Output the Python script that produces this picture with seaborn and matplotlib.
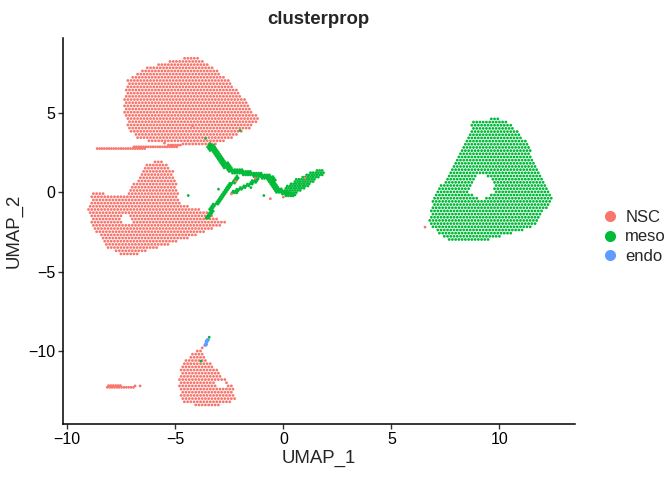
import numpy as np
import pandas as pd
import matplotlib
matplotlib.use("Agg")
import matplotlib.pyplot as plt
from matplotlib.path import Path
import seaborn as sns

# outlines of the cell clouds (UMAP coordinates)
nsc_top = [(-4.63, 8.46), (-3.85, 8.46), (-3.53, 8.14), (-2.6, 7.2),
           (-1.87, 6.01), (-1.08, 4.56), (-1.6, 4.0), (-2.6, 3.3),
           (-3.39, 2.85), (-5.0, 3.1), (-6.77, 3.30), (-7.19, 4.12),
           (-7.42, 5.31), (-7.24, 7.08), (-6.6, 7.7), (-5.8, 8.1)]
nsc_left = [(-9.09, -1.0), (-8.81, -0.04), (-7.24, -0.17), (-6.31, 1.85),
            (-5.71, 2.04), (-5.11, 1.41), (-4.9, 0.3), (-4.78, -0.67),
            (-3.6, -1.2), (-2.61, -1.94), (-3.72, -2.57), (-5.71, -3.46),
            (-7.24, -4.08), (-8.16, -3.46), (-8.81, -2.19)]
nsc_bottom = [(-3.72, -9.75), (-4.18, -10.13), (-4.64, -10.70), (-4.88, -12.02),
              (-4.64, -13.28), (-3.39, -13.60), (-2.14, -13.10), (-2.33, -12.28),
              (-3.07, -11.20), (-3.72, -10.26)]
meso_right = [(9.89, 4.74), (8.78, 4.43), (7.86, 1.59), (6.93, -0.30),
              (6.70, -1.94), (7.72, -3.17), (9.11, -3.17), (11.56, -2.16),
              (12.44, -0.48), (11.88, 1.22), (11.28, 3.11), (10.50, 4.37)]
meso_tip = [(0.0, 0.3), (0.4, -0.3), (1.0, 0.25), (1.9, 1.2), (1.85, 1.55),
            (1.2, 1.25), (0.5, 0.75)]

# sparse patches inside the clouds
holes = [
    [(8.6, 0.0), (9.1, -0.5), (9.8, 0.1), (9.6, 1.0), (9.0, 1.1)],
    [(-3.1, -11.8), (-2.7, -11.9), (-2.7, -12.4), (-3.1, -12.3)],
    [(-7.5, -1.4), (-7.1, -1.3), (-7.0, -1.9), (-7.4, -2.0)],
]

# thin strands: centre line and half width
nsc_strands = [
    ([(-8.6, 2.72), (-6.5, 2.82), (-4.8, 2.95)], 0.07),
    ([(-8.1, -12.25), (-7.0, -12.3)], 0.1),
]
meso_strands = [
    ([(-3.4, 2.95), (-2.47, 1.40), (-0.62, 0.96), (-0.29, 0.15),
      (0.31, -0.17)], 0.16),
    ([(-2.14, 0.96), (-3.25, -0.93), (-3.53, -1.63)], 0.1),
    ([(-2.33, -0.04), (-1.22, 0.78)], 0.1),
]
endo_strand = ([(-3.62, -9.65), (-3.5, -9.3)], 0.05)

# single cells
nsc_extra_x = [6.56, -2.2, -1.3, 0.0, -0.6, 1.0, -2.4, -6.86, -6.63, -4.2, -5.5]
nsc_extra_y = [-2.19, 0.7, 0.9, -0.3, -0.4, 0.9, -0.1, -12.2, -12.2, 4.2, 3.1]
meso_extra_x = [-3.43, -3.81, -3.6, -4.4, -2.0, -3.0, -1.5, -0.9]
meso_extra_y = [-9.13, -10.64, 3.4, -0.2, 3.9, 0.2, 0.3, -0.2]

labels = ["NSC", "meso", "endo"]
colors = ["#F8766D", "#00BA38", "#619CFF"]


def lattice(x0, x1, y0, y1, sx, sy):
    ys = np.arange(y0, y1, sy)
    pts = []
    for i, y in enumerate(ys):
        off = (i % 2) * sx / 2
        xs = np.arange(x0 + off, x1, sx)
        pts.append(np.column_stack([xs, np.full(len(xs), y)]))
    return np.vstack(pts)


def fill_poly(verts, sx=0.15, sy=0.2):
    v = np.array(verts)
    pts = lattice(v[:, 0].min(), v[:, 0].max(), v[:, 1].min(), v[:, 1].max(), sx, sy)
    keep = Path(v).contains_points(pts)
    for h in holes:
        keep &= ~Path(h).contains_points(pts)
    return pts[keep]


def fill_strand(line, hw, sx=0.11, sy=0.11):
    v = np.array(line)
    pts = lattice(v[:, 0].min() - hw, v[:, 0].max() + hw,
                  v[:, 1].min() - hw, v[:, 1].max() + hw, sx, sy)
    keep = np.zeros(len(pts), bool)
    for a, b in zip(v[:-1], v[1:]):
        d = b - a
        t = np.clip(((pts - a) @ d) / (d @ d), 0, 1)
        near = a + t[:, None] * d
        keep |= np.hypot(*(pts - near).T) <= hw
    return pts[keep]


parts = []
for poly in [nsc_top, nsc_left, nsc_bottom]:
    parts.append(("NSC", fill_poly(poly)))
for line, hw in nsc_strands:
    parts.append(("NSC", fill_strand(line, hw)))
parts.append(("meso", fill_poly(meso_right)))
parts.append(("meso", fill_poly(meso_tip, 0.12, 0.14)))
for line, hw in meso_strands:
    parts.append(("meso", fill_strand(line, hw)))
parts.append(("endo", fill_strand(*endo_strand, sx=0.06, sy=0.06)))
parts.append(("NSC", np.column_stack([nsc_extra_x, nsc_extra_y])))
parts.append(("meso", np.column_stack([meso_extra_x, meso_extra_y])))

df = pd.concat([
    pd.DataFrame({"UMAP_1": p[:, 0], "UMAP_2": p[:, 1], "ident": lab})
    for lab, p in parts
], ignore_index=True)

sns.set_style("white")
plt.rcParams["font.family"] = ["Liberation Sans", "DejaVu Sans"]

fig = plt.figure(figsize=(6.72, 4.8), dpi=100)
ax = fig.add_axes([0.0933, 0.1167, 0.7624, 0.8035])

sns.scatterplot(
    data=df,
    x="UMAP_1",
    y="UMAP_2",
    hue="ident",
    hue_order=labels,
    palette=colors,
    s=4,
    linewidth=0,
    ax=ax
)

ax.set_xlim(-10.21, 13.5)
ax.set_ylim(-14.6, 9.71)
ax.set_xticks([-10, -5, 0, 5, 10])
ax.set_yticks([-10, -5, 0, 5])

for side in ["top", "right"]:
    ax.spines[side].set_visible(False)
for side in ["left", "bottom"]:
    ax.spines[side].set_color("black")
    ax.spines[side].set_linewidth(1.1)

ax.tick_params(axis="both", which="both", length=3.5, width=1.0,
               color="#333333", labelsize=11.5, labelcolor="black",
               bottom=True, left=True, pad=2)
ax.set_xlabel("UMAP_1", fontsize=13.4, labelpad=2)
ax.set_ylabel("UMAP_2", fontsize=13.4, labelpad=4)
ax.set_title("clusterprop", fontsize=13.4, fontweight="bold", pad=10)

handles, _ = ax.get_legend_handles_labels()
for h in handles:
    h.set_markersize(8)
ax.legend(
    handles,
    labels,
    loc="center left",
    bbox_to_anchor=(1.02, 0.485),
    frameon=False,
    fontsize=12,
    handletextpad=0.3,
    labelspacing=0.25,
    handlelength=1.2
)

plt.savefig("out.png", dpi=100)
